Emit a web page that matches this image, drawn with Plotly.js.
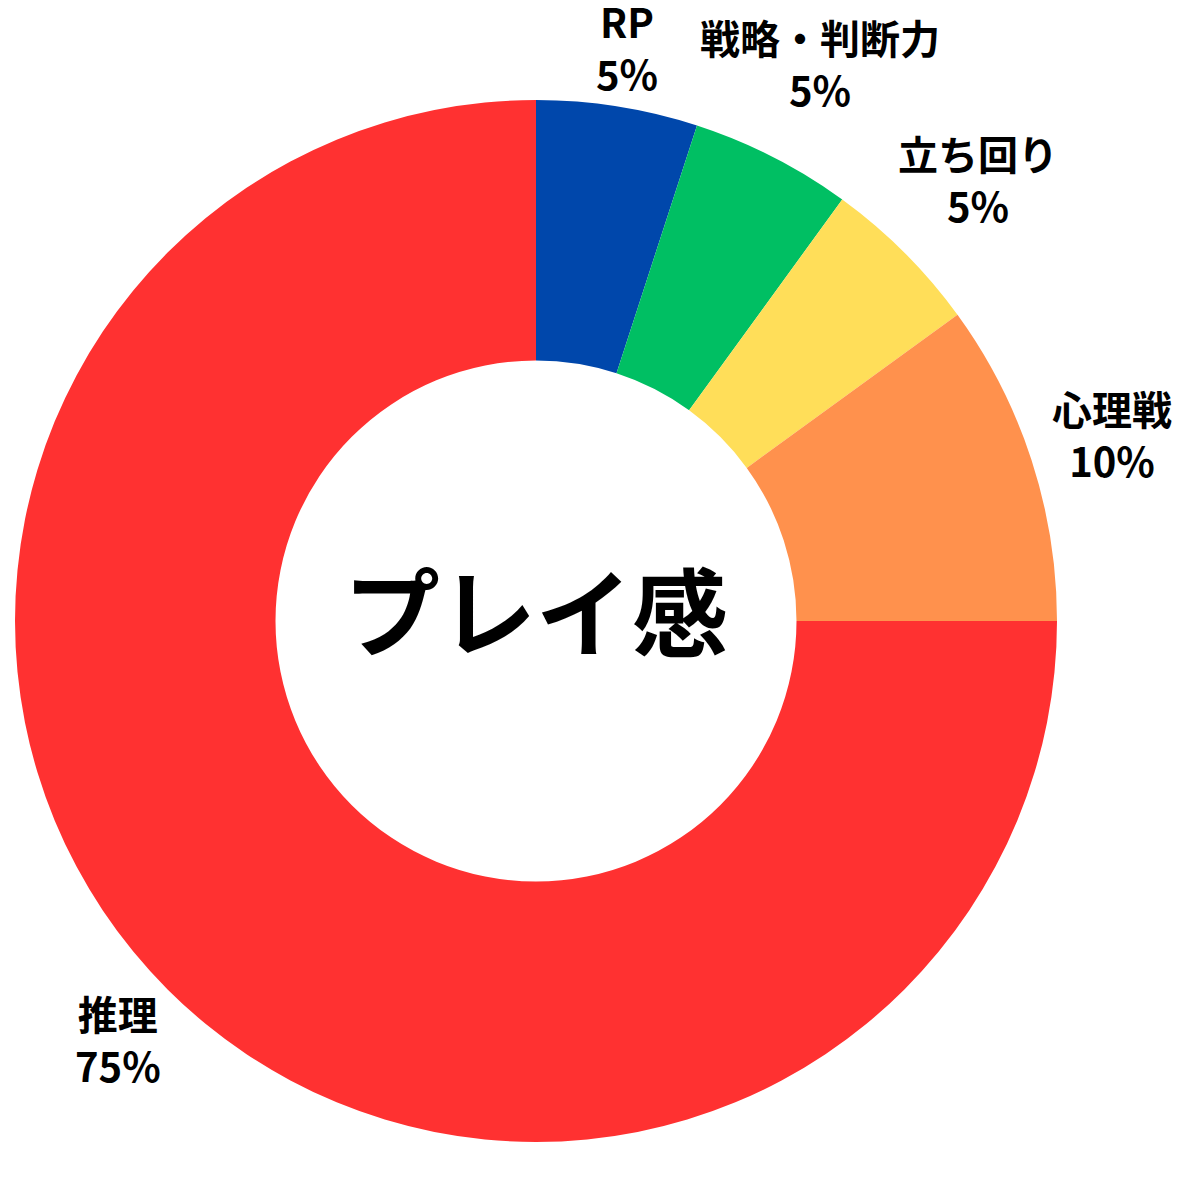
<!DOCTYPE html>
<html>
<head>
<meta charset="utf-8">
<script src="https://cdn.plot.ly/plotly-3.0.1.min.js"></script>
<style>html,body{margin:0;padding:0;background:#fff;}#chart{width:1200px;height:1177px;}</style>
</head>
<body>
<div id="chart"></div>
<script>
const labels = ["RP", "戦略・判断力", "立ち回り", "心理戦", "推理"];
const values = [5, 5, 5, 10, 75];
const colors = ["#0047AB", "#00BF63", "#FFDE59", "#FF914D", "#FF3131"];
const centerTitle = "プレイ感";

// layout constants
const W = 1200, H = 1177;
const cx = 536, cy = 621, R = 521;
const labelRadius = [581, 626, 625, 606, 591];
const labelFont = {family: "Noto Sans CJK JP", size: 40, color: "#000", weight: "bold"};

const total = values.reduce((a, b) => a + b, 0);
let cum = 0;
const labelAnnots = labels.map((lab, i) => {
  const mid = (cum + values[i] / 2) / total * 2 * Math.PI;
  cum += values[i];
  const r = labelRadius[i];
  const px = cx + r * Math.sin(mid);
  const py = cy - r * Math.cos(mid);
  const pct = Math.round(values[i] / total * 100) + "%";
  return {
    text: lab + "<br>" + pct,
    x: px / W, y: 1 - py / H, xref: "paper", yref: "paper",
    xanchor: "center", yanchor: "middle",
    showarrow: false, font: labelFont
  };
});

const data = [{
  type: "pie",
  labels: labels,
  values: values,
  hole: 0.5,
  sort: false,
  direction: "clockwise",
  rotation: 0,
  marker: {colors: colors, line: {width: 0}},
  textinfo: "none",
  domain: {x: [(cx - R) / W, (cx + R) / W], y: [1 - (cy + R) / H, 1 - (cy - R) / H]},
  showlegend: false,
  hoverinfo: "skip"
}];

const layout = {
  width: W, height: H,
  margin: {l: 0, r: 0, t: 0, b: 0},
  paper_bgcolor: "#fff",
  showlegend: false,
  annotations: labelAnnots.concat([{
    text: centerTitle,
    x: cx / W, y: 1 - cy / H, xref: "paper", yref: "paper",
    yshift: 14,
    showarrow: false,
    font: {family: "Noto Sans CJK JP", size: 96, color: "#000", weight: "bold"}
  }])
};

Plotly.newPlot("chart", data, layout, {displayModeBar: false, staticPlot: true});
</script>
</body>
</html>
